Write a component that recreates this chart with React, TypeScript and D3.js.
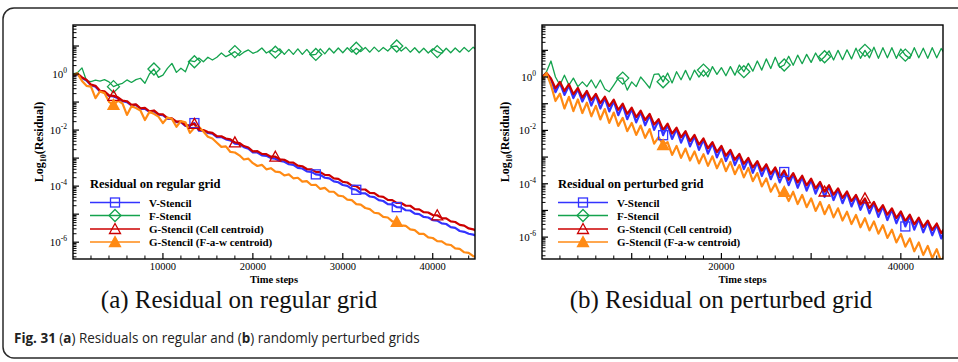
import React, { useLayoutEffect, useRef, useState } from "react";
import * as d3 from "d3";

// sampling interval (time steps) of the series below; values are log10(residual)
const STEP = 500;
const seriesNames = ["V-Stencil", "F-Stencil", "G-Stencil (Cell centroid)", "G-Stencil (F-a-w centroid)"];
const seriesColors = ["#3333ff", "#14a34e", "#cc0000", "#ff8a14"];
const markerKinds = ["square", "diamond", "triangle", "triangleFilled"];

// (a) regular grid
const regularV = [
  -0.07, -0.02, -0.14, -0.23, -0.4, -0.45, -0.62, -0.65, -0.78, -0.8,
  -0.86, -0.97, -1.0, -1.12, -1.1, -1.24, -1.24, -1.35, -1.33, -1.45,
  -1.47, -1.59, -1.6, -1.72, -1.72, -1.85, -1.84, -1.75, -2.02, -2.03,
  -2.1, -2.13, -2.25, -2.25, -2.33, -2.37, -2.48, -2.5, -2.61, -2.66,
  -2.8, -2.8, -2.9, -2.92, -3.0, -3.02, -3.1, -3.13, -3.22, -3.24,
  -3.35, -3.37, -3.47, -3.49, -3.58, -3.6, -3.7, -3.72, -3.83, -3.86,
  -3.96, -3.99, -4.1, -4.13, -4.25, -4.26, -4.37, -4.39, -4.5, -4.53,
  -4.64, -4.65, -4.75, -4.76, -4.86, -4.87, -4.98, -5.0, -5.1, -5.12,
  -5.21, -5.23, -5.33, -5.35, -5.46, -5.49, -5.6, -5.63, -5.7, -5.73, -5.8,
];
const regularF = [
  0.0, 0.05, 0.22, -0.24, -0.27, -0.22, -0.25, -0.2, -0.28, -0.45,
  -0.38, -0.33, -0.21, -0.3, -0.2, -0.15, -0.33, 0.0, 0.18, -0.12,
  -0.04, 0.2, 0.38, 0.06, 0.21, 0.08, 0.48, 0.44, 0.57, 0.44,
  0.6, 0.5, 0.6, 0.75, 0.62, 0.7, 0.8, 0.66, 0.78, 0.86,
  0.74, 0.8, 0.93, 0.75, 0.85, 0.78, 0.9, 0.7, 0.88, 0.7,
  0.9, 0.7, 0.88, 0.68, 0.7, 0.9, 0.72, 0.92, 0.75, 0.93,
  0.76, 0.94, 0.78, 0.92, 0.8, 0.95, 0.78, 0.96, 0.8, 0.95,
  0.82, 0.98, 1.0, 0.82, 0.96, 0.78, 0.94, 0.76, 0.92, 0.75,
  0.9, 0.8, 0.74, 0.92, 0.76, 0.93, 0.78, 0.95, 0.8, 0.96, 0.82,
];
const regularGCell = [
  -0.05, 0.02, -0.12, -0.2, -0.38, -0.42, -0.6, -0.62, -0.76, -0.78,
  -0.83, -0.95, -0.97, -1.1, -1.08, -1.22, -1.21, -1.33, -1.3, -1.43,
  -1.44, -1.57, -1.58, -1.7, -1.69, -1.83, -1.82, -1.78, -1.99, -2.0,
  -2.07, -2.1, -2.22, -2.22, -2.3, -2.33, -2.44, -2.46, -2.57, -2.62,
  -2.76, -2.75, -2.85, -2.86, -2.95, -2.95, -3.04, -3.06, -3.15, -3.16,
  -3.27, -3.29, -3.39, -3.4, -3.49, -3.5, -3.6, -3.61, -3.72, -3.74,
  -3.85, -3.87, -3.98, -4.0, -4.12, -4.12, -4.24, -4.25, -4.36, -4.38,
  -4.49, -4.5, -4.6, -4.6, -4.7, -4.7, -4.82, -4.83, -4.93, -4.94,
  -5.03, -5.04, -5.14, -5.15, -5.26, -5.28, -5.38, -5.41, -5.51, -5.54, -5.63,
];
const regularGFaw = [
  -0.05, 0.02, -0.25, -0.42, -0.45, -0.86, -0.62, -0.68, -0.99, -1.1,
  -0.95, -1.05, -1.46, -1.15, -1.21, -1.3, -1.64, -1.35, -1.42, -1.52,
  -1.75, -1.55, -1.6, -1.88, -1.68, -1.72, -2.1, -1.92, -1.88, -2.05,
  -2.24, -2.3, -2.45, -2.6, -2.58, -2.78, -2.8, -2.9, -3.05, -3.02,
  -3.18, -3.28, -3.24, -3.4, -3.36, -3.48, -3.5, -3.62, -3.58, -3.72,
  -3.7, -3.84, -3.82, -3.96, -3.95, -4.1, -4.06, -4.2, -4.2, -4.34,
  -4.36, -4.48, -4.5, -4.64, -4.66, -4.78, -4.82, -4.95, -4.97, -5.1,
  -5.12, -5.26, -5.27, -5.4, -5.42, -5.54, -5.57, -5.7, -5.7, -5.83,
  -5.85, -5.96, -5.97, -6.08, -6.1, -6.22, -6.24, -6.36, -6.38, -6.5, -6.53,
];

// (b) perturbed grid
const perturbedV = [
  -0.05, 0.1, -0.1, -0.57, -0.23, -0.67, -0.32, -0.79, -0.46, -0.92,
  -0.57, -1.07, -0.68, -1.18, -0.79, -1.29, -0.9, -1.43, -1.05, -1.58,
  -1.2, -1.7, -1.31, -1.81, -1.43, -1.98, -1.63, -2.18, -1.8, -2.32,
  -1.95, -2.46, -2.08, -2.6, -2.22, -2.73, -2.35, -2.87, -2.49, -3.01,
  -2.63, -3.15, -2.78, -3.3, -2.93, -3.45, -3.08, -3.59, -3.2, -3.71,
  -3.32, -3.83, -3.44, -3.95, -3.56, -4.05, -3.65, -4.15, -3.75, -4.26,
  -3.86, -4.37, -3.98, -4.49, -4.1, -4.61, -4.22, -4.73, -4.34, -4.85,
  -4.47, -4.98, -4.6, -5.11, -4.73, -5.24, -4.85, -5.36, -4.97, -5.48,
  -5.09, -5.6, -5.21, -5.72, -5.32, -5.82, -5.43, -5.93, -5.54, -6.05, -5.65,
];
const perturbedF = [
  0.0, 0.2, 0.6, 0.0, -0.3, 0.07, -0.3, -0.04, -0.36, -0.18,
  -0.36, -0.11, -0.41, -0.11, -0.45, -0.55, -0.3, -0.04, -0.04, -0.49,
  -0.18, -0.36, 0.0, -0.2, -0.41, 0.1, 0.12, -0.18, 0.15, -0.22,
  0.2, -0.1, 0.25, -0.11, 0.26, 0.0, 0.26, 0.01, 0.39, 0.1,
  0.35, 0.05, 0.39, 0.07, 0.45, 0.2, 0.51, 0.22, 0.6, 0.26,
  0.68, 0.32, 0.74, 0.36, 0.45, 0.78, 0.44, 0.82, 0.5, 0.85,
  0.55, 0.9, 0.6, 0.76, 0.98, 0.64, 1.0, 0.65, 1.02, 0.68,
  1.08, 0.7, 1.0, 0.72, 1.12, 0.7, 1.1, 0.72, 1.1, 0.7,
  1.05, 0.82, 0.7, 1.1, 0.72, 1.08, 0.7, 1.1, 0.72, 1.07, 0.8,
];
const perturbedGCell = [
  0.0, 0.15, -0.05, -0.42, -0.18, -0.52, -0.27, -0.64, -0.41, -0.77,
  -0.52, -0.87, -0.63, -0.98, -0.74, -1.09, -0.85, -1.23, -1.0, -1.38,
  -1.15, -1.5, -1.26, -1.61, -1.38, -1.78, -1.58, -1.98, -1.75, -2.12,
  -1.9, -2.26, -2.03, -2.4, -2.17, -2.53, -2.3, -2.67, -2.44, -2.81,
  -2.58, -2.95, -2.73, -3.1, -2.88, -3.25, -3.03, -3.39, -3.15, -3.51,
  -3.27, -3.63, -3.39, -3.75, -3.5, -3.85, -3.6, -3.95, -3.7, -4.06,
  -3.81, -4.17, -3.93, -4.29, -4.05, -4.41, -4.17, -4.53, -4.29, -4.65,
  -4.42, -4.78, -4.55, -4.91, -4.68, -5.04, -4.8, -5.16, -4.92, -5.28,
  -5.04, -5.4, -5.16, -5.52, -5.27, -5.62, -5.38, -5.73, -5.49, -5.85, -5.6,
];
const perturbedGFaw = [
  -0.1, 0.15, -0.3, -0.9, -0.62, -1.18, -0.74, -1.28, -0.84, -1.35,
  -0.96, -1.47, -1.08, -1.59, -1.2, -1.72, -1.33, -1.83, -1.53, -2.03,
  -1.72, -2.17, -1.82, -2.28, -1.95, -2.5, -2.25, -2.55, -2.44, -2.92,
  -2.58, -3.03, -2.68, -3.13, -2.79, -3.24, -2.89, -3.33, -2.97, -3.42,
  -3.07, -3.53, -3.18, -3.64, -3.3, -3.76, -3.41, -3.9, -3.6, -4.1,
  -3.8, -4.3, -4.0, -4.4, -4.3, -4.65, -4.3, -4.76, -4.42, -4.88,
  -4.55, -5.02, -4.68, -5.14, -4.8, -5.26, -4.92, -5.38, -5.05, -5.51,
  -5.17, -5.63, -5.29, -5.75, -5.41, -5.87, -5.55, -6.03, -5.72, -6.2,
  -5.88, -6.36, -6.05, -6.53, -6.2, -6.67, -6.33, -6.79, -6.45, -6.92, -6.58,
];

// visible symbol positions (time steps) per series
const regularMarkers = [
  [13500, 27000, 31500, 36000],
  [4500, 9000, 13500, 18000, 22500, 27000, 31500, 36000, 40500],
  [4500, 13500, 18000, 22500, 40500],
  [4500, 36000],
];
const perturbedMarkers = [
  [13500, 27000, 40500],
  [9000, 13500, 18000, 22500, 27000, 31500, 36000, 40500],
  [31500, 36000],
  [13500, 27000],
];

const regularXTickLabels = [10000, 20000, 30000, 40000];
const perturbedXTickLabels = [20000, 40000];
const yLabelExponents = [0, -2, -4, -6];
const X_MAX = 44700;

function Marker({ kind, x, y, color }: { kind: string; x: number; y: number; color: string }) {
  const sw = 1.3;
  if (kind === "square")
    return <rect x={x - 4.5} y={y - 4.5} width={9} height={9} fill="none" stroke={color} strokeWidth={sw} />;
  if (kind === "diamond")
    return <path d={`M${x},${y - 6}L${x + 6},${y}L${x},${y + 6}L${x - 6},${y}Z`} fill="none" stroke={color} strokeWidth={sw} />;
  const d = `M${x},${y - 5.5}L${x + 5.5},${y + 4.5}L${x - 5.5},${y + 4.5}Z`;
  if (kind === "triangle") return <path d={d} fill="none" stroke={color} strokeWidth={sw} />;
  return <path d={d} fill={color} stroke={color} strokeWidth={sw} />;
}

type PanelProps = {
  id: string;
  x0: number;
  x1: number;
  yTop: number;
  yBottom: number;
  expMin: number;
  expMax: number;
  data: number[][];
  markers: number[][];
  xLabels: number[];
  legendTitle: string;
  legendX: number;
  yTitleX: number;
};

function Panel(p: PanelProps) {
  const x = d3.scaleLinear().domain([0, X_MAX]).range([p.x0, p.x1]);
  const y = d3.scaleLog().domain([10 ** p.expMin, 10 ** p.expMax]).range([p.yBottom, p.yTop]);
  const line = d3
    .line<number>()
    .x((_, i) => x(i * STEP))
    .y((v) => y(10 ** v));

  const yMajor: number[] = [];
  const yMinor: number[] = [];
  for (let e = Math.floor(p.expMin); e <= Math.ceil(p.expMax); e++) {
    for (let k = 1; k <= 9; k++) {
      const v = k * 10 ** e;
      const lv = Math.log10(v);
      if (lv < p.expMin || lv > p.expMax) continue;
      if (k === 1) yMajor.push(e);
      else yMinor.push(v);
    }
  }
  const xMinor = d3.range(2000, X_MAX, 2000).filter((v) => v % 10000 !== 0);
  const xMajor = d3.range(10000, X_MAX, 10000);
  const legendRows = [202.5, 215.5, 229, 242];
  const lx = p.legendX;

  return (
    <g fontFamily="'Liberation Serif', 'Times New Roman', serif">
      <defs>
        <clipPath id={p.id}>
          <rect x={p.x0} y={p.yTop} width={p.x1 - p.x0} height={p.yBottom - p.yTop} />
        </clipPath>
      </defs>
      <g clipPath={`url(#${p.id})`}>
        {p.data.map((s, si) => (
          <path
            key={si}
            d={line(s) || ""}
            fill="none"
            stroke={seriesColors[si]}
            strokeWidth={si === 1 ? 1.3 : 2.2}
            strokeLinejoin="round"
          />
        ))}
        {p.markers.map((ms, si) =>
          ms.map((st) => (
            <Marker key={`${si}-${st}`} kind={markerKinds[si]} x={x(st)} y={y(10 ** p.data[si][st / STEP])} color={seriesColors[si]} />
          ))
        )}
      </g>
      {yMajor.map((e) => (
        <line key={`ym${e}`} x1={p.x0} x2={p.x0 + 6} y1={y(10 ** e)} y2={y(10 ** e)} stroke="#000" strokeWidth={1.2} />
      ))}
      {yMinor.map((v, i) => (
        <line key={`yn${i}`} x1={p.x0} x2={p.x0 + 3.5} y1={y(v)} y2={y(v)} stroke="#000" strokeWidth={1} />
      ))}
      {xMajor.map((v) => (
        <line key={`xm${v}`} x1={x(v)} x2={x(v)} y1={p.yBottom} y2={p.yBottom - 6} stroke="#000" strokeWidth={1.2} />
      ))}
      {xMinor.map((v) => (
        <line key={`xn${v}`} x1={x(v)} x2={x(v)} y1={p.yBottom} y2={p.yBottom - 3.5} stroke="#000" strokeWidth={1} />
      ))}
      <rect x={p.x0} y={p.yTop} width={p.x1 - p.x0} height={p.yBottom - p.yTop} fill="none" stroke="#000" strokeWidth={1.4} />
      {yLabelExponents.map((e) => (
        <text key={`yl${e}`} x={p.x0 - 6} y={y(10 ** e) + 4} textAnchor="end" fontSize={11} fill="#000">
          10<tspan dy={-5} fontSize={7.5}>{e}</tspan>
        </text>
      ))}
      {p.xLabels.map((v) => (
        <text key={`xl${v}`} x={x(v)} y={p.yBottom + 11} textAnchor="middle" fontSize={10.5} fill="#000">
          {v}
        </text>
      ))}
      <text x={(p.x0 + p.x1) / 2} y={p.yBottom + 23.5} textAnchor="middle" fontSize={10.5} fontWeight="bold" fill="#000">
        Time steps
      </text>
      <text
        transform={`translate(${p.yTitleX},${(p.yTop + p.yBottom) / 2}) rotate(-90)`}
        textAnchor="middle"
        fontSize={12}
        fontWeight="bold"
        fill="#000"
      >
        Log<tspan dy={3} fontSize={8}>10</tspan>
        <tspan dy={-3}>(Residual)</tspan>
      </text>
      <text x={lx} y={188} fontSize={12.5} fontWeight="bold" fill="#000">
        {p.legendTitle}
      </text>
      {seriesNames.map((name, si) => (
        <g key={name}>
          <line x1={lx} x2={lx + 50} y1={legendRows[si]} y2={legendRows[si]} stroke={seriesColors[si]} strokeWidth={1.6} />
          <Marker kind={markerKinds[si]} x={lx + 25} y={legendRows[si]} color={seriesColors[si]} />
          <text x={lx + 59} y={legendRows[si] + 4} fontSize={11} fontWeight="bold" fill="#000">
            {name}
          </text>
        </g>
      ))}
    </g>
  );
}

function Caption() {
  const ref = useRef<SVGTextElement>(null);
  const [sx, setSx] = useState(1);
  useLayoutEffect(() => {
    if (ref.current) {
      const w = ref.current.getComputedTextLength();
      if (w > 0) setSx(406 / w);
    }
  }, []);
  return (
    <text
      ref={ref}
      transform={`translate(14,343) scale(${sx},1)`}
      fontFamily="'Open Sans', 'Noto Sans', sans-serif"
      fontSize={14.5}
      fill="#222"
    >
      <tspan fontWeight="bold">Fig. 31</tspan> (<tspan fontWeight="bold">a</tspan>) Residuals on regular and (
      <tspan fontWeight="bold">b</tspan>) randomly perturbed grids
    </text>
  );
}

export default function App() {
  return (
    <svg width={958} height={362} style={{ position: "absolute", left: 0, top: 0, background: "#fff" }}>
      <rect x={0} y={0} width={958} height={362} fill="#fff" />
      <rect x={3} y={8} width={1000} height={350} rx={11} ry={11} fill="none" stroke="#2a2a2a" strokeWidth={1.5} />
      <Panel
        id="clipA"
        x0={73}
        x1={475}
        yTop={25}
        yBottom={259}
        expMin={-6.6}
        expMax={1.75}
        data={[regularV, regularF, regularGCell, regularGFaw]}
        markers={regularMarkers}
        xLabels={regularXTickLabels}
        legendTitle="Residual on regular grid"
        legendX={90}
        yTitleX={43}
      />
      <Panel
        id="clipB"
        x0={542}
        x1={943}
        yTop={25}
        yBottom={259}
        expMin={-6.82}
        expMax={1.95}
        data={[perturbedV, perturbedF, perturbedGCell, perturbedGFaw]}
        markers={perturbedMarkers}
        xLabels={perturbedXTickLabels}
        legendTitle="Residual on perturbed grid"
        legendX={558}
        yTitleX={509}
      />
      <g fontFamily="'Liberation Serif', 'Times New Roman', serif" fontSize={25} fill="#111">
        <text x={239} y={308} textAnchor="middle">(a) Residual on regular grid</text>
        <text x={721} y={308} textAnchor="middle">(b) Residual on perturbed grid</text>
      </g>
      <Caption />
    </svg>
  );
}
